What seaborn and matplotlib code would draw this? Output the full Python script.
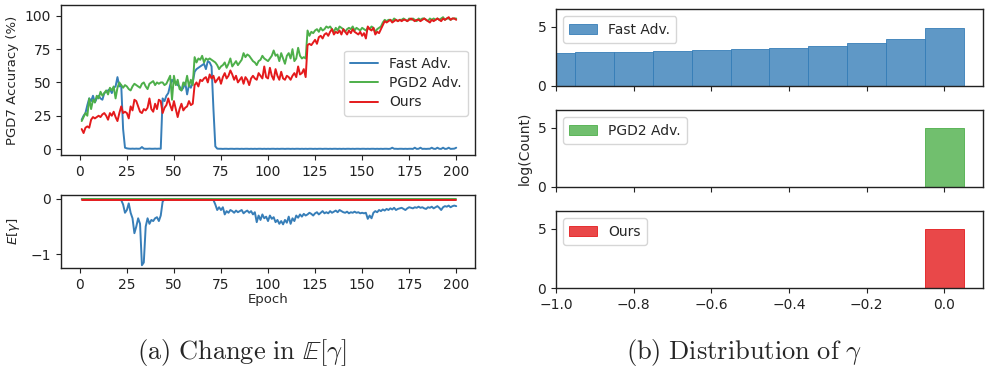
import matplotlib
matplotlib.use("Agg")
import matplotlib.pyplot as plt
import numpy as np
import pandas as pd
import seaborn as sns

sns.set_style("ticks")
plt.rcParams.update({
    "font.family": ["DejaVu Sans"],
    "font.size": 10,
    "axes.edgecolor": "#222222",
    "axes.linewidth": 1.0,
    "xtick.color": "#222222",
    "ytick.color": "#222222",
    "xtick.labelsize": 10,
    "ytick.labelsize": 10,
    "axes.labelsize": 9.5,
    "legend.fontsize": 10,
    "mathtext.fontset": "dejavusans",
})

BLUE, GREEN, RED = "#377eb8", "#4daf4a", "#e41a1c"
methods = ["Fast Adv.", "PGD2 Adv.", "Ours"]

epochs = list(range(1, 201))

# PGD7 robust accuracy (%) per epoch
acc_fast = [
    22, 25, 27, 33, 38, 36, 40, 35, 38, 40,
    38, 37, 42, 43, 44, 45, 42, 46, 47, 54,
    47, 48, 15, 1.0, 0.5, 0.3, 0.2, 0.3, 0.2, 0.3,
    0.2, 0.3, 1.5, 0.3, 0.2, 0.2, 0.3, 0.2, 0.2, 0.3,
    0.2, 0.3, 0.2, 38, 36, 40, 42, 48, 52, 50,
    50, 48, 47, 44, 46, 50, 41, 48, 46, 50,
    58, 60, 61, 62, 63, 64, 60, 66, 65, 62,
    30, 2.0, 0.3, 0.2, 0.2, 0.1, 0.2, 0.2, 0.1, 0.2,
    0.2, 0.1, 0.2, 0.2, 0.1, 0.2, 0.1, 0.2, 0.2, 0.1,
    0.2, 0.1, 0.2, 0.1, 0.2, 0.2, 0.1, 0.2, 0.1, 0.2,
    0.1, 0.2, 0.2, 0.1, 0.2, 0.1, 0.2, 0.2, 0.1, 0.2,
    0.2, 0.1, 0.2, 0.1, 0.2, 0.2, 0.1, 0.2, 0.1, 0.2,
    0.1, 0.2, 0.2, 0.1, 0.2, 0.1, 0.2, 0.2, 0.1, 0.2,
    0.2, 0.1, 0.2, 0.1, 0.2, 0.2, 0.1, 0.2, 0.1, 0.2,
    0.1, 0.2, 0.2, 0.1, 0.2, 0.1, 0.2, 0.2, 0.1, 0.2,
    0.2, 0.1, 0.2, 0.1, 0.2, 0.2, 0.1, 0.2, 0.1, 0.2,
    0.1, 0.2, 0.2, 0.1, 0.2, 1.0, 0.2, 0.2, 0.1, 0.2,
    0.2, 0.1, 0.2, 0.1, 0.2, 0.2, 0.1, 1.0, 0.1, 0.2,
    1.0, 0.1, 0.2, 0.1, 0.2, 0.2, 1.0, 0.2, 0.1, 1.0,
    0.2, 0.1, 1.0, 0.1, 0.2, 1.0, 0.1, 0.2, 0.3, 1.0,
]
acc_pgd2 = [
    21, 24, 27, 25, 38, 30, 37, 35, 40, 38,
    43, 40, 42, 44, 41, 46, 44, 47, 38, 46,
    50, 48, 46, 48, 47, 45, 44, 47, 49, 48,
    47, 46, 49, 50, 47, 45, 49, 50, 51, 48,
    50, 49, 50, 50, 48, 49, 52, 55, 37, 55,
    48, 52, 45, 44, 50, 48, 55, 47, 52, 48,
    69, 65, 68, 67, 70, 65, 68, 67, 68, 67,
    66, 65, 63, 60, 62, 63, 65, 61, 64, 68,
    62, 64, 66, 63, 65, 67, 72, 69, 71, 70,
    68, 66, 65, 63, 66, 67, 70, 68, 67, 66,
    68, 70, 74, 70, 71, 66, 72, 68, 64, 70,
    72, 68, 75, 66, 68, 76, 70, 68, 69, 68,
    89, 85, 88, 87, 89, 90, 88, 91, 89, 90,
    92, 91, 92, 90, 88, 91, 89, 92, 91, 90,
    88, 90, 91, 90, 92, 89, 91, 90, 89, 91,
    90, 89, 91, 90, 92, 91, 88, 90, 91, 92,
    95, 97, 96, 97, 97, 96, 98, 97, 96, 97,
    97, 98, 97, 96, 98, 97, 98, 97, 96, 98,
    97, 98, 98, 97, 96, 98, 97, 98, 97, 98,
    97, 98, 99, 97, 98, 98, 97, 98, 98, 98,
]
acc_ours = [
    15, 12, 16, 17, 16, 22, 24, 23, 24, 25,
    24, 26, 27, 25, 22, 27, 25, 28, 24, 21,
    27, 32, 27, 28, 27, 23, 32, 29, 37, 36,
    32, 28, 27, 30, 29, 31, 38, 30, 28, 34,
    30, 37, 36, 27, 31, 33, 38, 33, 29, 36,
    30, 24, 30, 34, 29, 31, 32, 36, 33, 34,
    48, 50, 47, 52, 51, 53, 54, 50, 56, 53,
    55, 50, 52, 54, 49, 54, 57, 53, 55, 59,
    56, 52, 55, 50, 52, 54, 49, 54, 52, 48,
    53, 55, 53, 52, 57, 55, 53, 62, 54, 53,
    61, 55, 52, 60, 55, 52, 58, 53, 52, 55,
    54, 52, 55, 57, 54, 62, 56, 57, 60, 54,
    78, 79, 78, 80, 82, 79, 84, 85, 83, 86,
    87, 85, 88, 90, 86, 88, 87, 89, 86, 90,
    88, 86, 89, 87, 90, 88, 87, 86, 88, 85,
    87, 83, 92, 90, 89, 91, 86, 88, 87, 90,
    93, 96, 95, 96, 97, 95, 96, 97, 96, 97,
    96, 97, 97, 96, 97, 98, 97, 96, 97, 97,
    96, 97, 98, 97, 96, 95, 97, 96, 97, 98,
    97, 96, 98, 97, 98, 99, 97, 98, 98, 97,
]

# Mean gamma per epoch
gamma_fast = [
    0.0, 0.0, 0.0, 0.0, 0.0, 0.0, 0.0, 0.0, 0.0, 0.0,
    0.0, 0.0, 0.0, 0.0, 0.0, 0.0, 0.0, 0.0, 0.0, 0.0,
    0.0, -0.02, -0.10, -0.25, -0.20, -0.08, -0.25, -0.35, -0.62, -0.50,
    -0.35, -0.45, -1.20, -1.15, -0.50, -0.35, -0.45, -0.38, -0.40, -0.35,
    -0.33, -0.40, -0.30, -0.05, 0.0, 0.0, 0.0, 0.0, 0.0, 0.0,
    0.0, 0.0, 0.0, 0.0, 0.0, 0.0, 0.0, 0.0, 0.0, 0.0,
    0.0, 0.0, 0.0, 0.0, 0.0, 0.0, 0.0, 0.0, 0.0, 0.0,
    -0.02, -0.10, -0.20, -0.15, -0.20, -0.15, -0.28, -0.22, -0.25, -0.20,
    -0.22, -0.25, -0.21, -0.24, -0.22, -0.20, -0.26, -0.23, -0.21, -0.25,
    -0.22, -0.28, -0.24, -0.42, -0.30, -0.38, -0.28, -0.35, -0.32, -0.40,
    -0.30, -0.36, -0.33, -0.42, -0.38, -0.45, -0.40, -0.46, -0.38, -0.43,
    -0.32, -0.45, -0.35, -0.40, -0.30, -0.34, -0.28, -0.32, -0.27, -0.30,
    -0.28, -0.25, -0.27, -0.30, -0.26, -0.24, -0.28, -0.25, -0.22, -0.26,
    -0.24, -0.26, -0.22, -0.25, -0.23, -0.21, -0.24, -0.20, -0.22, -0.24,
    -0.25, -0.23, -0.26, -0.24, -0.25, -0.23, -0.25, -0.24, -0.26, -0.25,
    -0.26, -0.25, -0.36, -0.30, -0.35, -0.25, -0.22, -0.24, -0.20, -0.22,
    -0.19, -0.21, -0.18, -0.20, -0.17, -0.19, -0.16, -0.20, -0.18, -0.17,
    -0.16, -0.18, -0.20, -0.17, -0.15, -0.16, -0.17, -0.15, -0.16, -0.14,
    -0.16, -0.15, -0.17, -0.18, -0.15, -0.16, -0.14, -0.17, -0.15, -0.13,
    -0.16, -0.20, -0.15, -0.13, -0.14, -0.12, -0.15, -0.13, -0.12, -0.13,
]
gamma_pgd2 = [
    0.0, 0.0, 0.0, 0.0, 0.0, 0.0, 0.0, 0.0, 0.0, 0.0,
    0.0, 0.0, 0.0, 0.0, 0.0, 0.0, 0.0, 0.0, 0.0, 0.0,
    0.0, 0.0, 0.0, 0.0, 0.0, 0.0, 0.0, 0.0, 0.0, 0.0,
    0.0, 0.0, 0.0, 0.0, 0.0, 0.0, 0.0, 0.0, 0.0, 0.0,
    0.0, 0.0, 0.0, 0.0, 0.0, 0.0, 0.0, 0.0, 0.0, 0.0,
    0.0, 0.0, 0.0, 0.0, 0.0, 0.0, 0.0, 0.0, 0.0, 0.0,
    0.0, 0.0, 0.0, 0.0, 0.0, 0.0, 0.0, 0.0, 0.0, 0.0,
    0.0, 0.0, 0.0, 0.0, 0.0, 0.0, 0.0, 0.0, 0.0, 0.0,
    0.0, 0.0, 0.0, 0.0, 0.0, 0.0, 0.0, 0.0, 0.0, 0.0,
    0.0, 0.0, 0.0, 0.0, 0.0, 0.0, 0.0, 0.0, 0.0, 0.0,
    0.0, 0.0, 0.0, 0.0, 0.0, 0.0, 0.0, 0.0, 0.0, 0.0,
    0.0, 0.0, 0.0, 0.0, 0.0, 0.0, 0.0, 0.0, 0.0, 0.0,
    0.0, 0.0, 0.0, 0.0, 0.0, 0.0, 0.0, 0.0, 0.0, 0.0,
    0.0, 0.0, 0.0, 0.0, 0.0, 0.0, 0.0, 0.0, 0.0, 0.0,
    0.0, 0.0, 0.0, 0.0, 0.0, 0.0, 0.0, 0.0, 0.0, 0.0,
    0.0, 0.0, 0.0, 0.0, 0.0, 0.0, 0.0, 0.0, 0.0, 0.0,
    0.0, 0.0, 0.0, 0.0, 0.0, 0.0, 0.0, 0.0, 0.0, 0.0,
    0.0, 0.0, 0.0, 0.0, 0.0, 0.0, 0.0, 0.0, 0.0, 0.0,
    0.0, 0.0, 0.0, 0.0, 0.0, 0.0, 0.0, 0.0, 0.0, 0.0,
    0.0, 0.0, 0.0, 0.0, 0.0, 0.0, 0.0, 0.0, 0.0, 0.0,
]
gamma_ours = [
    -0.01, -0.01, -0.01, -0.01, -0.01, -0.01, -0.01, -0.01, -0.01, -0.01,
    -0.01, -0.01, -0.01, -0.01, -0.01, -0.01, -0.01, -0.01, -0.01, -0.01,
    -0.01, -0.01, -0.01, -0.01, -0.01, -0.01, -0.01, -0.01, -0.01, -0.01,
    -0.01, -0.01, -0.01, -0.01, -0.01, -0.01, -0.01, -0.01, -0.01, -0.01,
    -0.01, -0.01, -0.01, -0.01, -0.01, -0.01, -0.01, -0.01, -0.01, -0.01,
    -0.01, -0.01, -0.01, -0.01, -0.01, -0.01, -0.01, -0.01, -0.01, -0.01,
    -0.01, -0.01, -0.01, -0.01, -0.01, -0.01, -0.01, -0.01, -0.01, -0.01,
    -0.01, -0.01, -0.01, -0.01, -0.01, -0.01, -0.01, -0.01, -0.01, -0.01,
    -0.01, -0.01, -0.01, -0.01, -0.01, -0.01, -0.01, -0.01, -0.01, -0.01,
    -0.01, -0.01, -0.01, -0.01, -0.01, -0.01, -0.01, -0.01, -0.01, -0.01,
    -0.01, -0.01, -0.01, -0.01, -0.01, -0.01, -0.01, -0.01, -0.01, -0.01,
    -0.01, -0.01, -0.01, -0.01, -0.01, -0.01, -0.01, -0.01, -0.01, -0.01,
    -0.01, -0.01, -0.01, -0.01, -0.01, -0.01, -0.01, -0.01, -0.01, -0.01,
    -0.01, -0.01, -0.01, -0.01, -0.01, -0.01, -0.01, -0.01, -0.01, -0.01,
    -0.01, -0.01, -0.01, -0.01, -0.01, -0.01, -0.01, -0.01, -0.01, -0.01,
    -0.01, -0.01, -0.01, -0.01, -0.01, -0.01, -0.01, -0.01, -0.01, -0.01,
    -0.01, -0.01, -0.01, -0.01, -0.01, -0.01, -0.01, -0.01, -0.01, -0.01,
    -0.01, -0.01, -0.01, -0.01, -0.01, -0.01, -0.01, -0.01, -0.01, -0.01,
    -0.01, -0.01, -0.01, -0.01, -0.01, -0.01, -0.01, -0.01, -0.01, -0.01,
    -0.01, -0.01, -0.01, -0.01, -0.01, -0.01, -0.01, -0.01, -0.01, -0.01,
]

# Histogram of gamma: bin centres and log(count) per bin
gamma_bins = [-1.0, -0.9, -0.8, -0.7, -0.6, -0.5, -0.4, -0.3, -0.2, -0.1, 0.0]
logcount_fast = [2.78, 2.85, 2.89, 2.95, 3.0, 3.12, 3.2, 3.34, 3.6, 3.99, 4.92]
logcount_pgd2 = [0.0, 0.0, 0.0, 0.0, 0.0, 0.0, 0.0, 0.0, 0.0, 0.0, 5.0]
logcount_ours = [0.0, 0.0, 0.0, 0.0, 0.0, 0.0, 0.0, 0.0, 0.0, 0.0, 5.0]
bin_edges = [-1.05, -0.95, -0.85, -0.75, -0.65, -0.55, -0.45, -0.35, -0.25, -0.15, -0.05, 0.05]

acc_df = pd.DataFrame({"Epoch": epochs * 3,
                       "acc": acc_fast + acc_pgd2 + acc_ours,
                       "gamma": gamma_fast + gamma_pgd2 + gamma_ours,
                       "method": sum([[m] * len(epochs) for m in methods], [])})
palette = dict(zip(methods, [BLUE, GREEN, RED]))

fig = plt.figure(figsize=(9.87, 3.70), dpi=100)

# (a) accuracy curves
ax_acc = fig.add_axes([0.0618, 0.581, 0.4195, 0.405])
sns.lineplot(data=acc_df, x="Epoch", y="acc", hue="method", palette=palette,
             linewidth=1.4, ax=ax_acc)
ax_acc.set_xlim(-10, 210)
ax_acc.set_ylim(-4.5, 108)
ax_acc.set_yticks([0, 25, 50, 75, 100])
ax_acc.set_xticks(range(0, 201, 25))
ax_acc.set_xlabel("")
ax_acc.set_ylabel("PGD7 Accuracy (%)")
ax_acc.legend(loc="center right", frameon=True, handlelength=2.0,
              borderpad=0.45, labelspacing=0.38, handletextpad=0.8,
              bbox_to_anchor=(1.0, 0.48))

# (a) mean gamma
ax_g = fig.add_axes([0.0618, 0.2757, 0.4195, 0.197])
sns.lineplot(data=acc_df, x="Epoch", y="gamma", hue="method", palette=palette,
             linewidth=1.4, ax=ax_g, legend=False)
ax_g.set_xlim(-10, 210)
ax_g.set_ylim(-1.25, 0.07)
ax_g.set_yticks([0, -1])
ax_g.set_xticks(range(0, 201, 25))
ax_g.set_xlabel("Epoch", labelpad=1)
ax_g.set_ylabel(r"$E[\gamma]$", labelpad=6)

# (b) distributions of gamma
hist_counts = [logcount_fast, logcount_pgd2, logcount_ours]
bottoms = [0.7676, 0.4946, 0.2216]
for i, (name, counts, b) in enumerate(zip(methods, hist_counts, bottoms)):
    ax = fig.add_axes([0.5633, b, 0.4326, 0.207])
    sns.histplot(x=gamma_bins, weights=counts, bins=bin_edges,
                 color=palette[name], alpha=0.8, edgecolor=palette[name],
                 linewidth=0.6, label=name, ax=ax)
    ax.set_xlim(-1.0, 0.1)
    ax.set_ylim(0, 6.45)
    ax.set_yticks([0, 5])
    ax.set_xticks([-1.0, -0.8, -0.6, -0.4, -0.2, 0.0])
    ax.set_xlabel("")
    ax.set_ylabel("log(Count)" if i == 1 else "", fontsize=10)
    if i < 2:
        ax.set_xticklabels([])
    ax.legend(loc="upper left", handlelength=2.0, borderpad=0.45)

fig.text(0.245, 0.048, r"$\mathrm{(a)\ Change\ in\ }\mathbb{E}[\gamma]$",
         ha="center", va="center", fontsize=19, math_fontfamily="cm")
fig.text(0.754, 0.048, r"$\mathrm{(b)\ Distribution\ of\ }\gamma$",
         ha="center", va="center", fontsize=19, math_fontfamily="cm")

fig.savefig("out.png", dpi=100)
